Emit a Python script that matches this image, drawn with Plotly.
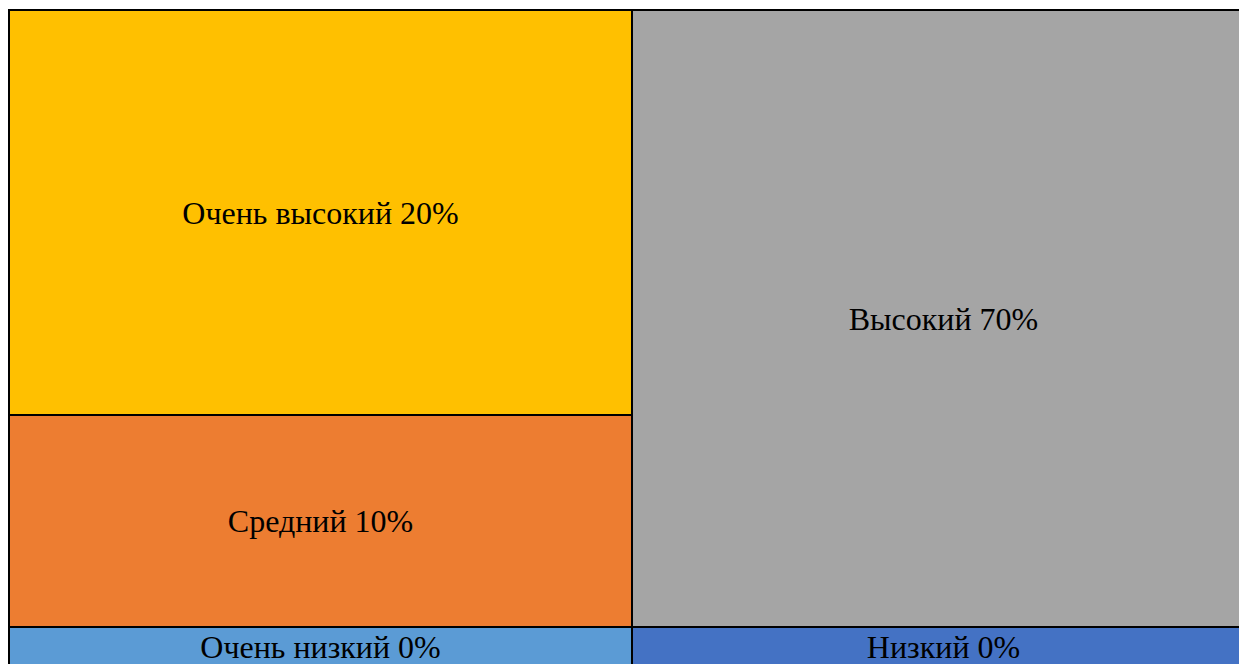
import plotly.graph_objects as go

# =========================
# Data
# =========================
levels   = ["Очень низкий", "Низкий", "Средний", "Высокий", "Очень высокий"]
percents = [0, 0, 10, 70, 20]
column   = [0, 1, 0, 1, 0]            # 0 = left column, 1 = right column
block    = [40, 40, 212, 617, 405]    # drawn block heights (layout units)
colors   = ["#5B9BD5", "#4472C4", "#ED7D31", "#A5A5A5", "#FFC000"]

# page body has an 8px margin, so the figure sits at (8, 8)
W, H = 1247, 656
UNIT = 623            # pixels per column
X0 = 1                # left edge of the first column inside the figure, px
Y0 = 3                # bottom strip runs a few px past the bottom edge

fig = go.Figure()
for lvl, pct, col, h, c in zip(levels, percents, column, block, colors):
    fig.add_trace(go.Bar(
        x=[col], y=[h],
        width=1,
        marker=dict(color=c, line=dict(color="black", width=2)),
        text=[f"{lvl} {pct}%"],
        textposition="inside",
        insidetextanchor="middle",
        constraintext="none",
        textfont=dict(family="Liberation Serif", size=32, color="black"),
        hoverinfo="skip",
        showlegend=False,
    ))

fig.update_layout(
    barmode="stack",
    bargap=0,
    width=W, height=H,
    margin=dict(l=0, r=0, t=0, b=0),
    paper_bgcolor="white",
    plot_bgcolor="white",
    uniformtext=dict(minsize=32, mode="show"),
    xaxis=dict(range=[-0.5 - X0 / UNIT, -0.5 + (W - X0) / UNIT], visible=False, fixedrange=True),
    yaxis=dict(range=[Y0, H + Y0], visible=False, fixedrange=True),
)

fig.write_html("out.html")
